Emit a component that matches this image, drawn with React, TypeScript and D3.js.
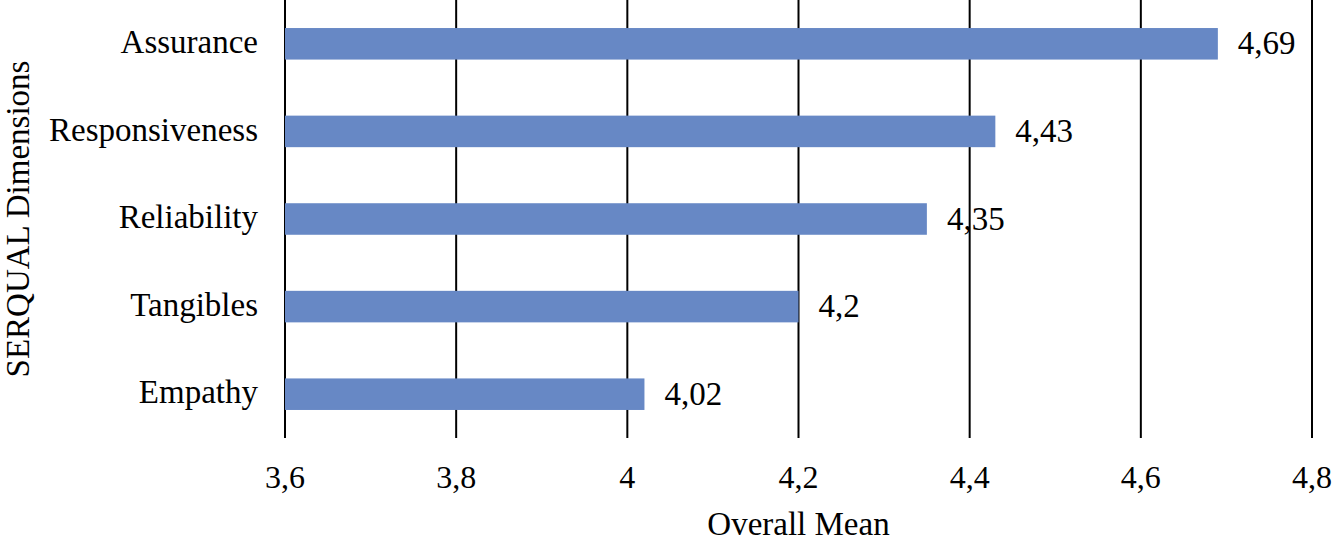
import React from "react";
import * as d3 from "d3";

const categories = ["Assurance", "Responsiveness", "Reliability", "Tangibles", "Empathy"];
const values = [4.69, 4.43, 4.35, 4.2, 4.02];
const xTicks = [3.6, 3.8, 4.0, 4.2, 4.4, 4.6, 4.8];

const W = 1335;
const H = 545;
const M = { left: 285, right: 1312, top: 0, bottom: 438 };
const FONT = "'Liberation Serif', 'Times New Roman', serif";
const FS = 33;

const fmt = (v: number) => String(+v.toFixed(2)).replace(".", ",");

export default function App() {
  const x = d3.scaleLinear().domain([3.6, 4.8]).range([M.left, M.right]);
  const y = d3
    .scaleBand<string>()
    .domain(categories)
    .range([M.top, M.bottom])
    .paddingInner(0.64)
    .paddingOuter(0.32);

  return (
    <svg
      width={W}
      height={H}
      style={{ position: "absolute", left: 0, top: 0, background: "#fff" }}
      fontFamily={FONT}
    >
      {xTicks.map((t) => (
        <line
          key={"g" + t}
          x1={x(t)}
          x2={x(t)}
          y1={M.top}
          y2={M.bottom}
          stroke="#000"
          strokeWidth={2}
        />
      ))}
      {categories.map((c, i) => (
        <g key={c}>
          <rect
            x={x(3.6)}
            y={y(c)!}
            width={x(values[i]) - x(3.6)}
            height={y.bandwidth()}
            fill="#6788C5"
          />
          <text
            x={x(values[i]) + 20}
            y={y(c)! + y.bandwidth() / 2}
            dy="0.32em"
            fontSize={FS}
            fill="#000"
          >
            {fmt(values[i])}
          </text>
          <text
            x={258}
            y={y(c)! + y.bandwidth() / 2}
            dy="0.28em"
            fontSize={FS}
            textAnchor="end"
            fill="#000"
          >
            {c}
          </text>
        </g>
      ))}
      {xTicks.map((t) => (
        <text
          key={"t" + t}
          x={x(t)}
          y={488}
          fontSize={32}
          textAnchor="middle"
          fill="#000"
        >
          {fmt(t)}
        </text>
      ))}
      <text x={(M.left + M.right) / 2} y={535} fontSize={FS} textAnchor="middle" fill="#000">
        Overall Mean
      </text>
      <text
        transform={`translate(29, ${(M.top + M.bottom) / 2}) rotate(-90)`}
        fontSize={FS}
        textAnchor="middle"
        fill="#000"
      >
        SERQUAL Dimensions
      </text>
    </svg>
  );
}
